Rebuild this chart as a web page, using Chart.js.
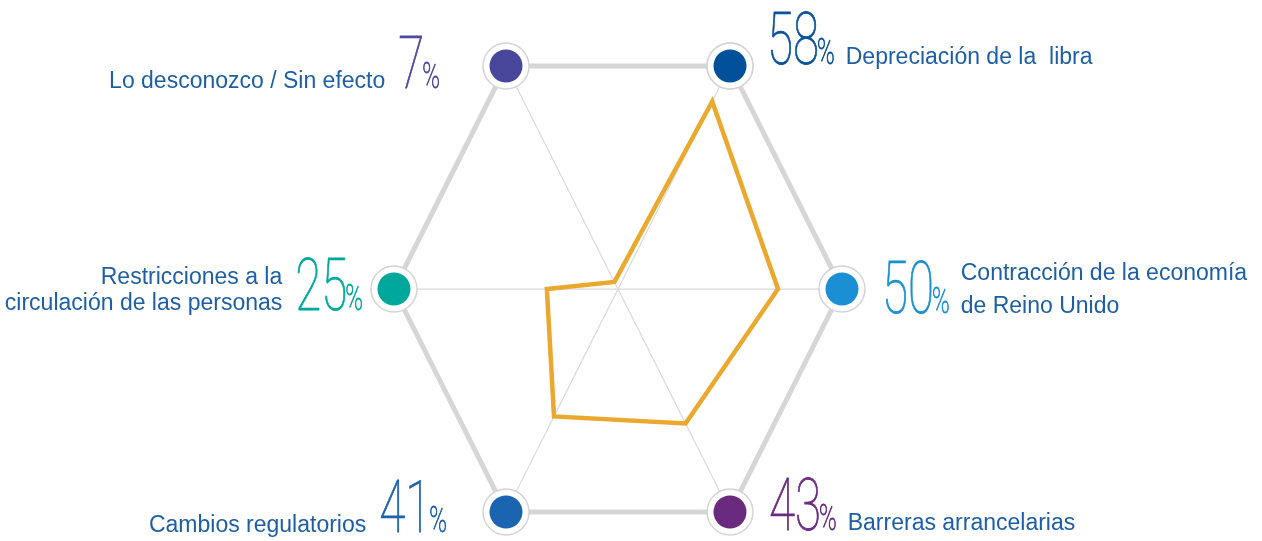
<!DOCTYPE html>
<html lang="es">
<head>
<meta charset="UTF-8">
<title>Efectos del Brexit</title>
<script src="https://cdn.jsdelivr.net/npm/chart.js"></script>
<style>
  html, body { margin: 0; padding: 0; background: #fff; overflow: hidden; }
  #radar { display: block; }
</style>
</head>
<body>
<canvas id="radar" width="1262" height="541"></canvas>

<script>
// datos (en sentido horario, empezando arriba a la derecha)
const categories = [
  ['Depreciación de la  libra'],
  ['Contracción de la economía', 'de Reino Unido'],
  ['Barreras arrancelarias'],
  ['Cambios regulatorios'],
  ['Restricciones a la', 'circulación de las personas'],
  ['Lo desconozco / Sin efecto']
];
const values = [58, 50, 43, 41, 25, 7];
const dotColors = ['#00509a', '#1a8fd4', '#6a2a7e', '#1a64b0', '#00a89c', '#49479b'];
const numberColors = ['#0a519d', '#1a90d0', '#6b2c80', '#1d62ad', '#00a99d', '#4b4a9f'];

// escala radial (el centro no es cero en el original)
const scaleMin = 5;
const scaleMax = 68;

// posicion de las etiquetas respecto a cada vertice
const labelLayout = [
  { gap: 37, dy: -2, lh: 33 },
  { gap: 40, dy: 24, lh: 33 },
  { gap: 39, dy: 18, lh: 33 },
  { gap: 59, dy: 20, lh: 26 },
  { gap: 31, dy: 21, lh: 26 },
  { gap: 66, dy: 22, lh: 26 }
];

const angle = i => (60 - i * 60) * Math.PI / 180;
const axisPoint = (i, r) => ({ x: r * Math.cos(angle(i)), y: r * Math.sin(angle(i)) });

const vertices = categories.map((c, i) => axisPoint(i, 1));
const spokes = [];
vertices.forEach(v => { spokes.push({ x: 0, y: 0 }); spokes.push(v); });
const hexagon = vertices.concat([vertices[0]]);
const dataPoints = values.map((v, i) => axisPoint(i, (v - scaleMin) / (scaleMax - scaleMin)));
const dataLine = dataPoints.concat([dataPoints[0], dataPoints[1]]);

// numeros finos y estrechos: se escala en horizontal y se engrosa un poco
function drawCondensed(ctx, text, x, y, sx) {
  ctx.save();
  ctx.translate(x, y);
  ctx.scale(sx, 1);
  ctx.fillText(text, 0, 0);
  ctx.lineWidth = 0.9;
  ctx.strokeText(text, 0, 0);
  ctx.restore();
  return ctx.measureText(text).width * sx;
}

const labelsPlugin = {
  id: 'vertexLabels',
  afterDatasetsDraw(chart) {
    const ctx = chart.ctx;
    const xs = chart.scales.x, ys = chart.scales.y;
    const numFont = '100 72px Roboto';
    const pctFont = '100 36px Roboto';
    const txtFont = '23px "Liberation Sans", Arial, sans-serif';
    const sx = 0.66;
    const pctGap = -2;
    ctx.save();
    ctx.textBaseline = 'alphabetic';
    ctx.textAlign = 'left';
    vertices.forEach((v, i) => {
      const px = xs.getPixelForValue(v.x);
      const py = ys.getPixelForValue(v.y);
      const lay = labelLayout[i];
      const base = py + lay.dy;
      const lines = categories[i];
      const num = String(values[i]);

      ctx.font = numFont;
      const numW = ctx.measureText(num).width * sx;
      ctx.font = pctFont;
      const pctW = ctx.measureText('%').width * sx;

      ctx.fillStyle = numberColors[i];
      ctx.strokeStyle = numberColors[i];
      if (v.x > 0) {
        let x = px + lay.gap;
        ctx.font = numFont;
        x += drawCondensed(ctx, num, x, base, sx) + pctGap;
        ctx.font = pctFont;
        x += drawCondensed(ctx, '%', x, base, sx) + 11;
        ctx.fillStyle = '#1d5fa6';
        ctx.font = txtFont;
        lines.forEach((l, k) => {
          ctx.fillText(l, x, base - (lines.length - 1 - k) * lay.lh);
        });
      } else {
        const end = px - lay.gap;
        const x = end - pctW - pctGap - numW;
        ctx.font = numFont;
        drawCondensed(ctx, num, x, base, sx);
        ctx.font = pctFont;
        drawCondensed(ctx, '%', end - pctW, base, sx);
        ctx.fillStyle = '#1d5fa6';
        ctx.font = txtFont;
        ctx.textAlign = 'right';
        lines.forEach((l, k) => {
          ctx.fillText(l, x - 13, base - (lines.length - 1 - k) * lay.lh);
        });
        ctx.textAlign = 'left';
      }
    });
    ctx.restore();
  }
};

new Chart(document.getElementById('radar'), {
  type: 'scatter',
  data: {
    datasets: [
      {
        label: 'valores',
        data: dataLine,
        showLine: true,
        borderColor: '#eaa92e',
        borderWidth: 4.5,
        borderJoinStyle: 'miter',
        pointRadius: 0,
        tension: 0,
        clip: false,
        order: 0
      },
      {
        label: 'puntos',
        data: vertices,
        showLine: false,
        pointRadius: 16.5,
        pointBackgroundColor: dotColors,
        pointBorderWidth: 0,
        clip: false,
        order: 1
      },
      {
        label: 'hexagono',
        data: hexagon,
        showLine: true,
        borderColor: '#d6d6d6',
        borderWidth: 5,
        pointRadius: 23,
        pointBackgroundColor: '#ffffff',
        pointBorderColor: '#d4d4d4',
        pointBorderWidth: 1.5,
        tension: 0,
        clip: false,
        order: 2
      },
      {
        label: 'ejes',
        data: spokes,
        showLine: true,
        borderColor: '#d9d9d9',
        borderWidth: 1.2,
        pointRadius: 0,
        tension: 0,
        clip: false,
        order: 3
      }
    ]
  },
  options: {
    responsive: false,
    animation: false,
    events: [],
    layout: {
      autoPadding: false,
      padding: { left: 58, right: 84, top: 44.4, bottom: 7.35 }
    },
    scales: {
      x: { type: 'linear', min: -2.5, max: 2.5, display: false },
      y: { type: 'linear', min: -0.95, max: 0.95, display: false }
    },
    plugins: {
      legend: { display: false },
      tooltip: { enabled: false }
    }
  },
  plugins: [labelsPlugin]
});
</script>
</body>
</html>
